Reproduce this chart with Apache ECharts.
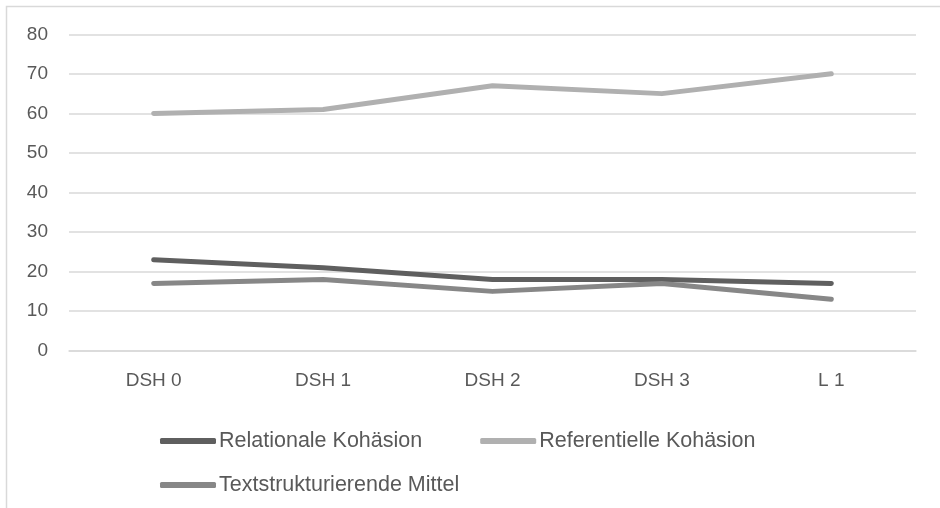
<!DOCTYPE html>
<html>
<head>
<meta charset="utf-8">
<script src="https://cdn.jsdelivr.net/npm/echarts@6/dist/echarts.min.js"></script>
<style>
html,body{margin:0;padding:0;background:#fff;}
#chart{width:940px;height:508px;}
</style>
</head>
<body>
<div id="chart"></div>
<script>
const categories = ['DSH 0', 'DSH 1', 'DSH 2', 'DSH 3', 'L 1'];
const relationale = [23, 21, 18, 18, 17];
const referentielle = [60, 61, 67, 65, 70];
const textstrukt = [17, 18, 15, 17, 13];
const seriesNames = ['Relationale Kohäsion', 'Referentielle Kohäsion', 'Textstrukturierende Mittel'];
const colors = ['#5f5f5f', '#b0b0b0', '#878787'];

const FONT = 'Liberation Sans';
const chart = echarts.init(document.getElementById('chart'), null, {renderer: 'canvas'});

function lineSeries(name, data, color) {
  return {
    name: name, type: 'line', data: data, symbol: 'none', showSymbol: false,
    color: color,
    lineStyle: {color: color, width: 5, cap: 'round', join: 'round'}
  };
}

const legendCommon = {
  orient: 'horizontal',
  icon: 'roundRect',
  itemWidth: 56,
  itemHeight: 6,
  itemGap: 58,
  textStyle: {fontFamily: FONT, fontSize: 21.5, color: '#595959', padding: [0, 0, 0, -2]}
};

chart.setOption({
  animation: false,
  backgroundColor: '#ffffff',
  color: colors,
  graphic: [{
    type: 'rect',
    shape: {x: 6.5, y: 6.5, width: 1000, height: 1000},
    style: {fill: 'none', stroke: '#d9d9d9', lineWidth: 1.5},
    silent: true
  }],
  grid: {left: 69, right: 24, top: 34.3, bottom: 157.3, containLabel: false},
  xAxis: {
    type: 'category',
    data: categories,
    boundaryGap: true,
    axisLine: {show: true, lineStyle: {color: '#d9d9d9', width: 1.5}},
    axisTick: {show: false},
    axisLabel: {fontFamily: FONT, fontSize: 19, color: '#595959', margin: 21}
  },
  yAxis: {
    type: 'value',
    min: 0, max: 80, interval: 10,
    axisLine: {show: false},
    axisTick: {show: false},
    splitLine: {lineStyle: {color: '#d9d9d9', width: 1.5}},
    axisLabel: {fontFamily: FONT, fontSize: 19, color: '#595959', margin: 21}
  },
  legend: [
    Object.assign({}, legendCommon, {left: 155, top: 425, data: [seriesNames[0], seriesNames[1]]}),
    Object.assign({}, legendCommon, {left: 155, top: 469, data: [seriesNames[2]]})
  ],
  series: [
    lineSeries(seriesNames[0], relationale, colors[0]),
    lineSeries(seriesNames[1], referentielle, colors[1]),
    lineSeries(seriesNames[2], textstrukt, colors[2])
  ]
});
</script>
</body>
</html>
